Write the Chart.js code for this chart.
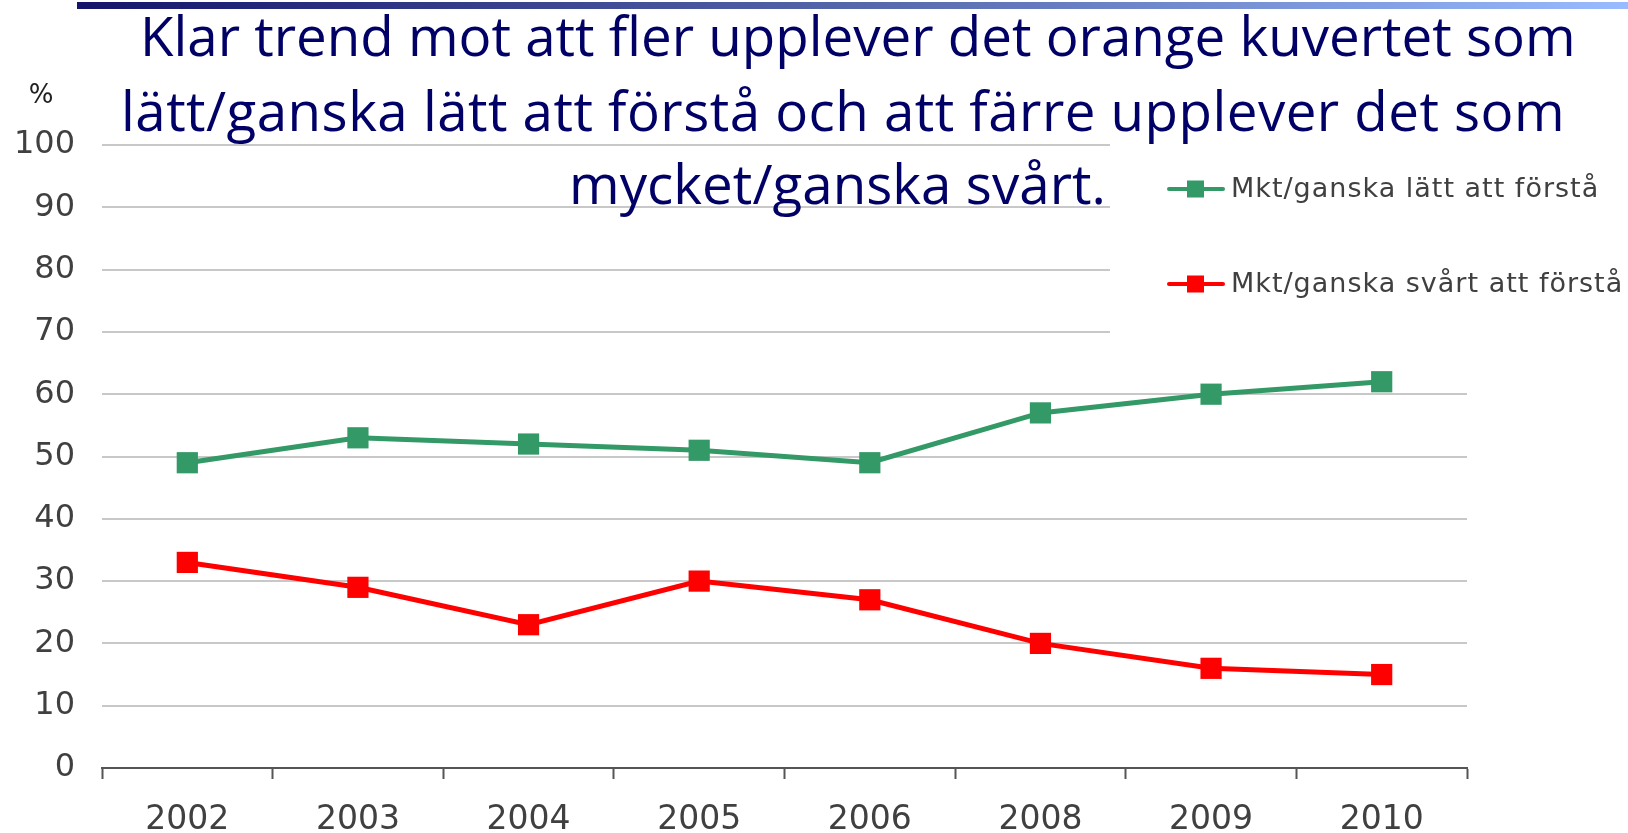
<!DOCTYPE html>
<html>
<head>
<meta charset="utf-8">
<script src="https://cdn.jsdelivr.net/npm/chart.js@4"></script>
<style>
  html, body { margin: 0; padding: 0; background: #fff; }
  #wrap { width: 1628px; height: 833px; position: relative; }
</style>
</head>
<body>
<div id="wrap"><canvas id="chart" width="1628" height="833"></canvas></div>
<script>
// Data
const years = ['2002', '2003', '2004', '2005', '2006', '2008', '2009', '2010'];
const easy = [49, 53, 52, 51, 49, 57, 60, 62];
const hard = [33, 29, 23, 30, 27, 20, 16, 15];
const easyLabel = 'Mkt/ganska lätt att förstå';
const hardLabel = 'Mkt/ganska svårt att förstå';
const titleLines = [
  'Klar trend mot att fler upplever det orange kuvertet som',
  'lätt/ganska lätt att förstå och att färre upplever det som',
  'mycket/ganska svårt.'
];
const unitLabel = '%';

const GREEN = '#339966';
const RED = '#ff0000';
const TEXT = '#404040';
const FONT = '"DejaVu Sans", Verdana, sans-serif';

// draws the top gradient bar, title, white legend box and legend
const decor = {
  id: 'decor',
  beforeDatasetsDraw(chart) {
    const ctx = chart.ctx;
    ctx.save();
    ctx.fillStyle = '#fff';
    ctx.fillRect(1110, 120, 518, 240);
    ctx.restore();
  },
  afterDraw(chart) {
    const ctx = chart.ctx;
    ctx.save();

    // gradient bar at top
    const g = ctx.createLinearGradient(77, 0, 1628, 0);
    g.addColorStop(0, '#14146a');
    g.addColorStop(0.5, '#5566aa');
    g.addColorStop(1, '#99bbff');
    ctx.fillStyle = g;
    ctx.fillRect(77, 2, 1551, 7);

    // title
    ctx.fillStyle = '#000066';
    ctx.textBaseline = 'alphabetic';
    ctx.textAlign = 'left';
    const tFont = '"Open Sans", sans-serif';
    ctx.font = '54px ' + tFont;
    const w0 = ctx.measureText(titleLines[0]).width;
    const size = 54 * 1437 / w0;
    ctx.font = size.toFixed(1) + 'px ' + tFont;
    const xs = [140, 121, 569];
    const ys = [56, 131, 204];
    const widths = [1437, 1444, 537];
    titleLines.forEach((t, i) => {
      ctx.letterSpacing = '0px';
      const w = ctx.measureText(t).width;
      const extra = (widths[i] - w) / t.length;
      ctx.letterSpacing = (i === 0 ? 0 : extra).toFixed(2) + 'px';
      ctx.fillText(t, xs[i], ys[i]);
    });
    ctx.letterSpacing = '0px';

    // % label
    ctx.fillStyle = '#222';
    ctx.font = '26px ' + FONT;
    ctx.textAlign = 'center';
    ctx.textBaseline = 'middle';
    ctx.fillText(unitLabel, 41, 96);

    // legend
    const items = [[easyLabel, GREEN, 189], [hardLabel, RED, 284]];
    items.forEach(([label, color, y]) => {
      ctx.strokeStyle = color;
      ctx.lineWidth = 4;
      ctx.lineCap = 'round';
      ctx.beginPath();
      ctx.moveTo(1169, y);
      ctx.lineTo(1223, y);
      ctx.stroke();
      ctx.fillStyle = color;
      ctx.fillRect(1187, y - 8.5, 17, 17);
      ctx.fillStyle = TEXT;
      ctx.font = '27px ' + FONT;
      ctx.letterSpacing = '1px';
      ctx.textAlign = 'left';
      ctx.textBaseline = 'middle';
      ctx.fillText(label, 1231, y + 1);
      ctx.letterSpacing = '0px';
    });
    ctx.restore();
  }
};

new Chart(document.getElementById('chart'), {
  type: 'line',
  data: {
    labels: years,
    datasets: [
      {
        label: easyLabel,
        data: easy,
        borderColor: GREEN,
        backgroundColor: GREEN,
        borderWidth: 5,
        pointStyle: 'rect',
        pointRadius: 15,
        pointBorderWidth: 0,
        tension: 0
      },
      {
        label: hardLabel,
        data: hard,
        borderColor: RED,
        backgroundColor: RED,
        borderWidth: 5,
        pointStyle: 'rect',
        pointRadius: 15,
        pointBorderWidth: 0,
        tension: 0
      }
    ]
  },
  options: {
    responsive: false,
    animation: false,
    layout: { padding: { left: 0, right: 161, top: 145, bottom: 0 } },
    plugins: {
      legend: { display: false },
      title: { display: false },
      tooltip: { enabled: false }
    },
    scales: {
      x: {
        offset: true,
        grid: {
          offset: true,
          drawOnChartArea: false,
          drawTicks: true,
          tickLength: 11,
          tickColor: '#555',
          tickWidth: 2
        },
        border: { color: '#555', width: 2 },
        ticks: {
          color: TEXT,
          font: { family: FONT, size: 33 },
          padding: 22,
          maxRotation: 0
        },
        afterFit(scale) { scale.height = 65; }
      },
      y: {
        min: 0,
        max: 100,
        grid: { color: '#c8c8c8', lineWidth: 2, drawTicks: false },
        border: { display: false },
        ticks: {
          stepSize: 10,
          color: TEXT,
          font: { family: FONT, size: 32 },
          padding: 27
        },
        afterFit(scale) { scale.width = 102; }
      }
    }
  },
  plugins: [decor]
});
</script>
</body>
</html>
